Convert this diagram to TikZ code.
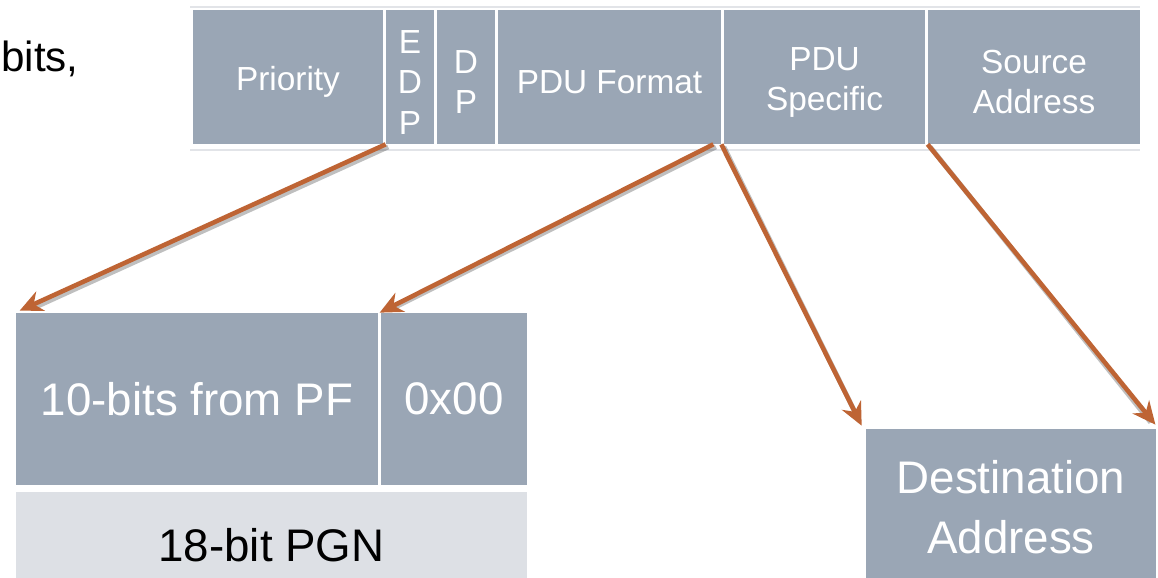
\documentclass[tikz,border=0pt]{standalone}
\usepackage{fontspec}
\setmainfont{Liberation Sans}
\usetikzlibrary{positioning,arrows.meta}
\definecolor{fieldgray}{RGB}{154,166,181}
\definecolor{pgngray}{RGB}{221,224,229}
\definecolor{rulegray}{RGB}{226,228,232}
\definecolor{arrowc}{RGB}{190,100,52}
\newcommand{\fieldstrut}{\rule{0pt}{1em}}

\begin{document}
\begin{tikzpicture}[
  field/.style={fill=fieldgray, text=white, inner sep=0pt, minimum height=2.68cm, align=center, font=\fontsize{19}{23}\selectfont},
  big/.style={fill=fieldgray, text=white, inner sep=0pt, align=center, font=\fontsize{26}{34}\selectfont},
  arr/.style={draw=arrowc, line width=2.6pt, -{Stealth[length=13pt,width=12pt]}},
  arrshadow/.style={draw=black, opacity=0.25, line width=2.8pt, shorten >=6pt}
]
\useasboundingbox (0,0) rectangle (23.16,11.54);
\fill[white] (0,0) rectangle (23.16,11.54);
\draw[rulegray, line width=1pt] (3.8,11.4) -- (22.8,11.4);
\draw[rulegray, line width=1pt] (3.8,8.54) -- (22.8,8.54);
\node[anchor=base east, inner sep=0pt, font=\fontsize{24}{28}\selectfont] (bits) at (1.58,10.1) {bits,};

% CAN identifier fields
\node[field, minimum width=3.8cm] (prio) at (5.76,10) {\fieldstrut Priority};
\node[field, minimum width=0.96cm] (edp) at (8.2,10) {\fieldstrut E\\D\\P};
\node[field, minimum width=1.16cm] (dp) at (9.32,10) {\fieldstrut D\\P};
\node[field, minimum width=4.46cm] (pf) at (12.19,10) {\fieldstrut PDU Format};
\node[field, minimum width=4.02cm] (ps) at (16.49,10) {\fieldstrut PDU\\Specific};
\node[field, minimum width=4.24cm] (sa) at (20.68,10) {\fieldstrut Source\\Address};

% PGN
\node[big, minimum width=7.24cm, minimum height=3.44cm] (tenbits) at (3.94,3.56) {10-bits from PF};
\node[big, minimum width=2.92cm, minimum height=3.44cm] (zero) at (9.08,3.56) {0x00};
\node[big, fill=pgngray, text=black, minimum width=10.22cm, minimum height=2.12cm] (pgn) at (5.43,0.64) {18-bit PGN};
\node[big, minimum width=5.8cm, minimum height=3.12cm] (dest) at (20.22,1.4) {Destination\\Address};

\draw[arrshadow] ([shift={(0.05,-0.05)}]edp.south west) -- ([shift={(0.13,-0.01)}]tenbits.north west);
\draw[arrshadow] ([shift={(-0.11,-0.05)}]pf.south east) -- ([shift={(0.05,-0.01)}]zero.north west);
\draw[arrshadow] ([shift={(0.05,-0.05)}]pf.south east) -- ([shift={(-0.03,-0.04)}]dest.north west);
\draw[arrshadow] ([shift={(0.05,-0.05)}]sa.south west) -- ([shift={(0.02,-0.04)}]dest.north east);

\draw[arr] (edp.south west) -- ([shift={(0.08,0.04)}]tenbits.north west);
\draw[arr] ([xshift=-0.16cm]pf.south east) -- ([xshift=-0.02cm]zero.north west);
\draw[arr] (pf.south east) -- ([shift={(-0.08,0.06)}]dest.north west);
\draw[arr] (sa.south west) -- ([shift={(-0.02,0.08)}]dest.north east);
\end{tikzpicture}
\end{document}
